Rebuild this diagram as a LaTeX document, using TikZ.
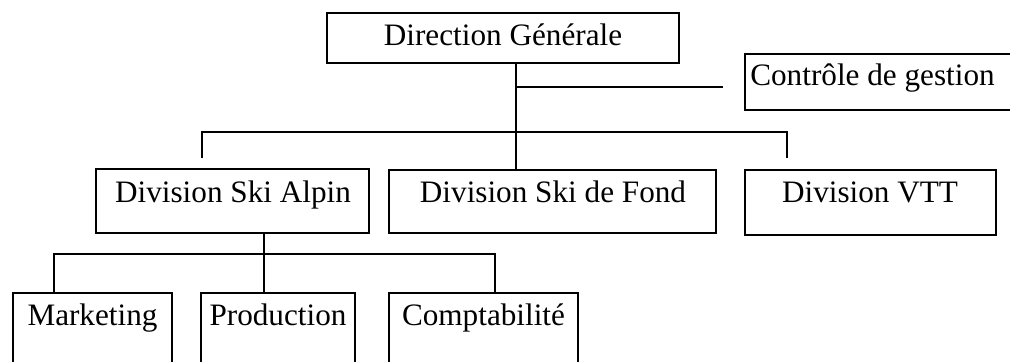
\documentclass[tikz,border=0pt]{standalone}
\usepackage{fontspec}
\setmainfont{Liberation Serif}
\begin{document}
\begin{tikzpicture}[x=0.5pt,y=-0.5pt,
  box/.style={draw,line width=1.4pt,inner sep=0pt},
  conn/.style={line width=1.4pt},
  lbl/.style={anchor=base,inner sep=0pt,font=\fontsize{15.6pt}{18pt}\selectfont}]
\useasboundingbox (0,0) rectangle (1010,362);
\clip (0,0) rectangle (1010,362);
% boxes
\node[box,minimum width=176pt,minimum height=25pt] (dg) at (503,38) {};
\node[box,minimum width=140pt,minimum height=28pt] (ctrl) at (885,82) {};
\node[box,minimum width=136.5pt,minimum height=32pt] (alpin) at (232.5,201) {};
\node[box,minimum width=163.5pt,minimum height=31.5pt] (fond) at (552.5,201.5) {};
\node[box,minimum width=125.5pt,minimum height=32.5pt] (vtt) at (870.5,202.5) {};
% open bottom boxes
\coordinate (mk) at (92.5,293);
\coordinate (pr) at (278,293);
\coordinate (co) at (483.5,293);
\draw[conn] (13,380) -- (13,293) -- (172,293) -- (172,380);
\draw[conn] (201,380) -- (201,293) -- (355,293) -- (355,380);
\draw[conn] (389,380) -- (389,293) -- (578,293) -- (578,380);
% labels
\node[lbl] (tdg) at (503,46) {Direction Générale};
\node[lbl] (tctrl) at (872.5,86) {Contrôle de gestion};
\node[lbl] (talpin) at (233,203) {Division Ski Alpin};
\node[lbl] (tfond) at (553,203) {Division Ski de Fond};
\node[lbl] (tvtt) at (870,203) {Division VTT};
\node[lbl] (tmk) at (92.5,325.5) {Marketing};
\node[lbl] (tpr) at (278,325.5) {Production};
\node[lbl] (tco) at (483.5,325.5) {Comptabilité};
% connectors
\coordinate (j1) at (516,87);
\coordinate (c1) at (723,87);
\coordinate (h1) at (202,132);
\coordinate (h2) at (787,132);
\coordinate (t1) at (202,158);
\coordinate (t2) at (787,158);
\draw[conn] (dg.south -| j1) -- (fond.north -| j1);
\draw[conn] (j1) -- (c1);
\draw[conn] (t1) -- (h1) -- (h2) -- (t2);
\coordinate (j2) at (264,254);
\draw[conn] (alpin.south -| j2) -- (j2);
\draw[conn] (54,293) -- (54,254) -- (495,254) -- (495,293);
\draw[conn] (j2) -- (264,293);
\end{tikzpicture}
\end{document}
